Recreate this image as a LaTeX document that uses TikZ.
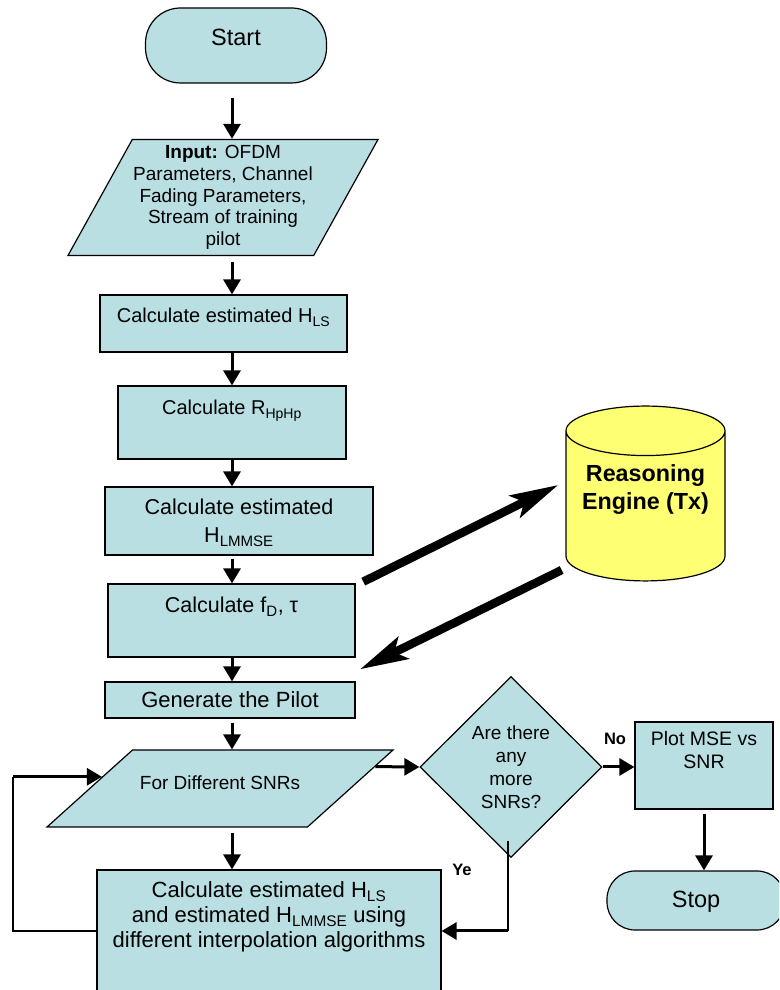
\documentclass[tikz,border=0pt]{standalone}
\usepackage{fontspec}
\setmainfont{Liberation Sans}
\usetikzlibrary{shapes.geometric,arrows.meta,positioning}

\definecolor{boxfill}{RGB}{185,223,227}
\definecolor{dbfill}{RGB}{255,255,115}
% text block pinned to the top of a box: width, height, first baseline, text
\newcommand{\boxtext}[4]{\parbox[c][#2][t]{#1}{\centering\rule{0pt}{#3}#4}}

\begin{document}
\begin{tikzpicture}[x=1pt, y=1pt,
    box/.style={rectangle, draw, line width=1.2pt, fill=boxfill, inner sep=0pt},
    term/.style={box, rounded corners=35pt},
    io/.style={trapezium, trapezium stretches body=true, draw, line width=1.2pt, fill=boxfill, inner xsep=0pt, align=center},
    decision/.style={diamond, draw, line width=1.2pt, fill=boxfill, inner sep=0pt, minimum width=182pt, minimum height=181pt, align=center},
    flow/.style={line width=3pt, -{Triangle[length=15pt, width=17pt]}},
    thinline/.style={line width=1.3pt},
    bigarrow/.style={line width=8.5pt, -{Stealth[length=48pt, width=24pt, inset=10pt]}},
    lbl/.style={font=\fontsize{16.5}{18}\selectfont\bfseries}
]
\clip (0,0) rectangle (779,990);

\node[term, font=\fontsize{23.5}{27}\selectfont] (start) at (236,944.5) {\boxtext{181pt}{75pt}{38pt}{Start}};

\node[io, trapezium left angle=61, trapezium right angle=119, inner ysep=6pt, minimum width=310pt, font=\fontsize{19}{21.7}\selectfont] (input) at (223,792.5) {
    \textbf{Input:} OFDM\\
    Parameters, Channel\\
    Fading Parameters,\\
    Stream of training\\
    pilot
};

\node[box, font=\fontsize{20}{23}\selectfont] (ls) at (223.5,666.5) {\boxtext{247pt}{57pt}{28pt}{Calculate estimated H\textsubscript{LS}}};
\node[box, font=\fontsize{20}{23}\selectfont] (rh) at (232,567.5) {\boxtext{228pt}{73pt}{29pt}{Calculate R\textsubscript{HpHp}}};
\node[box, font=\fontsize{21.5}{28}\selectfont] (lm) at (239,469) {\boxtext{268pt}{68pt}{28pt}{Calculate estimated\\ H\textsubscript{LMMSE}}};
\node[box, font=\fontsize{21.5}{25}\selectfont] (fd) at (231.5,369.5) {\boxtext{247pt}{73pt}{29pt}{Calculate f\textsubscript{D}, τ}};
\node[box, font=\fontsize{22}{25}\selectfont] (gp) at (230,290) {\boxtext{250pt}{36pt}{26pt}{Generate the Pilot}};

\node[io, trapezium left angle=42, trapezium right angle=138, inner ysep=0pt, text height=40pt, text depth=37pt, minimum width=346pt, font=\fontsize{19}{22}\selectfont] (sn) at (220,201.5) {For Different SNRs};

\node[decision, font=\fontsize{19}{23}\selectfont] (dia) at (511,223) {Are there\\ any\\ more\\ SNRs?};

\node[box, font=\fontsize{19.5}{23}\selectfont] (plot) at (704,224.5) {\boxtext{138pt}{87pt}{24pt}{Plot MSE vs\\ SNR}};
\node[term, rounded corners=28pt, font=\fontsize{23.5}{27}\selectfont] (stop) at (696,89.5) {\boxtext{178pt}{59pt}{36.5pt}{Stop}};

\node[box, font=\fontsize{22}{25}\selectfont] (calc) at (269,59) {\boxtext{344pt}{122pt}{28pt}{Calculate estimated H\textsubscript{LS}\\ and estimated H\textsubscript{LMMSE} using\\ different interpolation algorithms}};

\node[cylinder, shape border rotate=90, aspect=0.33, draw, line width=1.2pt, fill=dbfill, inner sep=0pt, minimum width=159pt, minimum height=157pt, anchor=shape center, font=\fontsize{23.3}{28}\selectfont\bfseries] (re) at (645.5,496.5) {\boxtext{150pt}{100pt}{25pt}{Reasoning\\ Engine (Tx)}};

\node[lbl] (nolbl) at (615,251) {No};
\node[lbl] (yelbl) at (462,120) {Ye};

% points on the slanted sides and free ends
\coordinate (spine) at (232,0);
\path (sn.bottom right corner) -- (sn.top right corner) coordinate[pos=0.78] (snout);
\path (sn.bottom left corner) -- (sn.top left corner) coordinate[pos=0.65] (snin);
\coordinate (lp) at (13,0 |- snin);
\path ([shift={(-3,17)}]dia.south) coordinate (ye1);
\coordinate (reA1) at (363.3,408.3);
\coordinate (reA2) at (558.3,505);
\coordinate (reB1) at (561.7,420);
\coordinate (reB2) at (360,320.7);

\draw[flow, shorten <=14pt] (start.south -| spine) -- (input.north -| spine);
\draw[flow, shorten <=6pt] (input.south -| spine) -- (ls.north -| spine);
\draw[flow] (ls.south -| spine) -- (rh.north -| spine);
\draw[flow] (rh.south -| spine) -- (lm.north -| spine);
\draw[flow, shorten <=3pt] (lm.south -| spine) -- (fd.north -| spine);
\draw[flow] (fd.south -| spine) -- (gp.north -| spine);
\draw[flow, shorten <=4pt] (gp.south -| spine) -- (sn.north -| spine);
\draw[flow, shorten <=5pt] (sn.south -| spine) -- (calc.north -| spine);

\draw[flow] (snout) -- (dia.west);
\draw[flow] (dia.east) -- (dia.east -| plot.west);
\draw[flow, shorten <=4pt] (plot.south) -- (plot.south |- stop.north);

\draw[thinline] (ye1) -- (ye1 |- calc.east);
\draw[flow] (ye1 |- calc.east) -- (calc.east);

\draw[thinline] (calc.west) -| (lp);
\draw[flow] (lp) -- (snin);

\draw[bigarrow] (reA1) -- (reA2);
\draw[bigarrow] (reB1) -- (reB2);

\end{tikzpicture}
\end{document}
